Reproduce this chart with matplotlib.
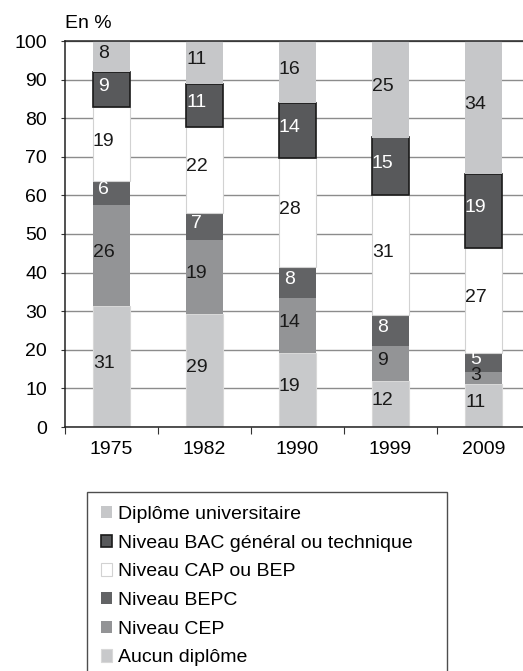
import matplotlib
matplotlib.use("Agg")
import matplotlib.pyplot as plt
import numpy as np

plt.rcParams["font.family"] = ["Liberation Sans", "DejaVu Sans"]

years = ["1975", "1982", "1990", "1999", "2009"]

# bottom to top
categories = [
    "Aucun diplôme",
    "Niveau CEP",
    "Niveau BEPC",
    "Niveau CAP ou BEP",
    "Niveau BAC général ou technique",
    "Diplôme universitaire",
]
aucun = [31, 29, 19, 12, 11]
cep = [26, 19, 14, 9, 3]
bepc = [6, 7, 8, 8, 5]
cap = [19, 22, 28, 31, 27]
bac = [9, 11, 14, 15, 19]
univ = [8, 11, 16, 25, 34]

series = [aucun, cep, bepc, cap, bac, univ]

facecolors = ["#c8c9cb", "#939496", "#626365", "#ffffff", "#58595b", "#c6c7c9"]
edgecolors = ["#d8d8d8", "#939496", "#626365", "#d2d2d2", "#1a1a1a", "#c6c7c9"]
linewidths = [0.8, 0, 0, 0.8, 1.2, 0]
textcolors = ["#1a1a1a", "#1a1a1a", "white", "#1a1a1a", "white", "#1a1a1a"]

fs = 14

fig = plt.figure(figsize=(5.23, 6.71), dpi=100)
ax = fig.add_axes([65 / 523, 244 / 671, 465 / 523, 386 / 671])

x = np.arange(len(years))
data = np.array(series, dtype=float)
# scale each year so the stack fills 100 %
heights = data / data.sum(axis=0) * 100
bottom = np.zeros(len(years))
handles = []
for i, name in enumerate(categories):
    bars = ax.bar(x, heights[i], 0.4, bottom=bottom, color=facecolors[i],
                  edgecolor=edgecolors[i], linewidth=linewidths[i],
                  label=name, zorder=2)
    handles.append(bars)
    for j in range(len(years)):
        yc = bottom[j] + heights[i][j] / 2 + 0.8
        ax.text(x[j] - 0.085, yc, str(series[i][j]), ha="center", va="center",
                fontsize=fs, color=textcolors[i], zorder=3)
    bottom += heights[i]

ax.set_xlim(-0.5, 4.5)
ax.set_ylim(0, 100)
ax.set_yticks(range(0, 101, 10))
ax.yaxis.grid(True, color="#8c8c8c", linewidth=1)
ax.set_axisbelow(True)

ax.set_xticks(np.arange(-0.5, 5, 1))
ax.set_xticklabels([])
ax.set_xticks(x, minor=True)
ax.set_xticklabels(years, minor=True)
ax.tick_params(axis="x", which="major", length=5, color="#333333", direction="out")
ax.tick_params(axis="x", which="minor", length=0, pad=10, labelsize=fs)
ax.tick_params(axis="y", length=3, pad=10, labelsize=fs, color="#333333")

for side in ["left", "bottom", "top"]:
    ax.spines[side].set_color("#222222")
    ax.spines[side].set_linewidth(1.1)
ax.spines["right"].set_visible(False)

fig.text(65 / 523, 1 - 24 / 671, "En %", ha="left", va="center", fontsize=fs)

# legend box runs off the bottom edge, as in the source
leg = fig.legend(handles[::-1], categories[::-1],
                 loc="upper left",
                 bbox_to_anchor=(87 / 523, 1 - 493 / 671, 360 / 523, 0.001),
                 mode="expand", fontsize=fs, frameon=True, fancybox=False,
                 handlelength=0.6, handleheight=0.6, handletextpad=0.3,
                 labelspacing=0.6, borderpad=0.7, borderaxespad=0)
leg.get_frame().set_edgecolor("#222222")
leg.get_frame().set_linewidth(1.0)

fig.savefig("out.png", dpi=100)
